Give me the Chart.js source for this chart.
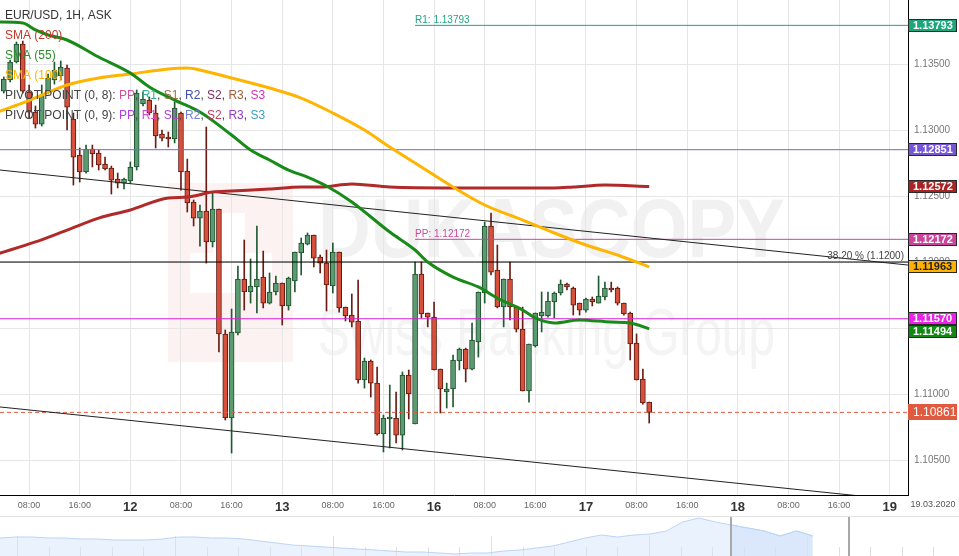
<!DOCTYPE html>
<html>
<head>
<meta charset="utf-8">
<title>EUR/USD 1H</title>
<script src="https://cdn.jsdelivr.net/npm/chart.js@4.4.1/dist/chart.umd.min.js"></script>
<style>
  html, body { margin: 0; padding: 0; background: #fff; }
  #wrap { position: relative; width: 959px; height: 556px; overflow: hidden; background: #fff; }
  #main { position: absolute; left: 0; top: 0; }
  #nav { position: absolute; left: 0; top: 515px; }
</style>
</head>
<body>
<div id="wrap">
  <canvas id="main" width="959" height="515"></canvas>
  <canvas id="nav" width="959" height="41"></canvas>
</div>
<script>
// EUR/USD, 1H, ASK — hour index counted from 11.03 00:00 (weekend collapsed)
const firstHour = 4;
const opens = [1.13295,1.13379,1.13515,1.13652,1.13288,1.13136,1.13045,1.13288,1.13379,1.13409,1.13470,1.13083,1.12811,1.12682,1.12856,1.12826,1.12742,1.12712,1.12629,1.12598,1.12614,1.12720,1.13197,1.13227,1.13129,1.12970,1.12947,1.12932,1.13129,1.12689,1.12455,1.12333,1.12386,1.12152,1.12402,1.11455,1.10818,1.11462,1.11871,1.11773,1.11811,1.11886,1.11689,1.11773,1.11841,1.11667,1.11856,1.12068,1.12136,1.12205,1.12038,1.11992,1.11818,1.12076,1.11659,1.11598,1.11553,1.11106,1.11250,1.11083,1.10697,1.10811,1.10818,1.10689,1.11144,1.10773,1.11909,1.11614,1.11583,1.11189,1.11015,1.11038,1.11250,1.11341,1.11189,1.11394,1.11765,1.12273,1.11939,1.11659,1.11871,1.11659,1.11492,1.11023,1.11364,1.11591,1.11591,1.11697,1.11765,1.11833,1.11803,1.11689,1.11636,1.11720,1.11689,1.11735,1.11803,1.11803,1.11689,1.11614,1.11386,1.11114,1.10939];
const highs = [1.13402,1.13530,1.13667,1.13674,1.13341,1.13182,1.13341,1.13424,1.13515,1.13523,1.13492,1.13129,1.12864,1.12886,1.12886,1.12848,1.12795,1.12727,1.12674,1.12636,1.12758,1.13303,1.13288,1.13250,1.13189,1.13000,1.12985,1.13212,1.13136,1.12780,1.12470,1.12432,1.13023,1.12530,1.12402,1.11485,1.11644,1.11970,1.12167,1.12023,1.12273,1.12083,1.11917,1.11894,1.11841,1.11886,1.12076,1.12182,1.12220,1.12205,1.12053,1.12091,1.12144,1.12076,1.11659,1.11758,1.11864,1.11273,1.11258,1.11205,1.10841,1.11068,1.11015,1.11167,1.11182,1.12000,1.12000,1.11614,1.11697,1.11189,1.11083,1.11295,1.11348,1.11348,1.11538,1.11773,1.12303,1.12371,1.12129,1.11871,1.12000,1.11659,1.11659,1.11379,1.11614,1.11773,1.11773,1.11773,1.11864,1.11841,1.11811,1.11689,1.11727,1.11735,1.11894,1.11848,1.11848,1.11811,1.11689,1.11621,1.11455,1.11189,1.10939];
const lows = [1.13280,1.13364,1.13508,1.13280,1.13091,1.13015,1.13030,1.13273,1.13348,1.13379,1.13000,1.12583,1.12606,1.12674,1.12720,1.12697,1.12697,1.12515,1.12561,1.12553,1.12598,1.12697,1.13182,1.13114,1.12864,1.12917,1.12871,1.12902,1.12545,1.12379,1.12273,1.12121,1.11992,1.12114,1.11318,1.10803,1.10553,1.11447,1.11636,1.11689,1.11614,1.11652,1.11682,1.11750,1.11523,1.11636,1.11773,1.11902,1.12129,1.11962,1.11917,1.11629,1.11765,1.11621,1.11553,1.11508,1.11083,1.11045,1.10977,1.10689,1.10561,1.10591,1.10629,1.10576,1.10811,1.10773,1.11576,1.11508,1.11182,1.10856,1.10894,1.10902,1.11182,1.11091,1.11182,1.11280,1.11689,1.11902,1.11652,1.11508,1.11561,1.11470,1.11023,1.10939,1.11356,1.11470,1.11583,1.11576,1.11750,1.11788,1.11598,1.11598,1.11621,1.11667,1.11689,1.11712,1.11773,1.11674,1.11598,1.11258,1.11106,1.10924,1.10780];
const closes = [1.13386,1.13515,1.13652,1.13295,1.13136,1.13045,1.13265,1.13394,1.13455,1.13477,1.13174,1.12795,1.12682,1.12856,1.12818,1.12735,1.12705,1.12621,1.12598,1.12629,1.12720,1.13280,1.13235,1.13129,1.12955,1.12939,1.12932,1.13167,1.12682,1.12447,1.12333,1.12386,1.12152,1.12402,1.11455,1.10818,1.11470,1.11871,1.11773,1.11818,1.11871,1.11689,1.11773,1.11841,1.11667,1.11879,1.12076,1.12144,1.12205,1.12030,1.11992,1.11826,1.12076,1.11652,1.11591,1.11545,1.11106,1.11250,1.11083,1.10697,1.10818,1.10826,1.10689,1.11144,1.11000,1.11909,1.11606,1.11583,1.11182,1.11038,1.11038,1.11258,1.11341,1.11189,1.11409,1.11773,1.12273,1.11924,1.11659,1.11871,1.11659,1.11492,1.11023,1.11379,1.11614,1.11621,1.11705,1.11765,1.11833,1.11811,1.11674,1.11636,1.11720,1.11697,1.11742,1.11803,1.11788,1.11689,1.11606,1.11379,1.11106,1.10932,1.10861];

// moving averages, read at sample hours
const sma55Hours = [3,7,9,11,14,19,24,27,31,35,40,43,46,49,52,55,59,65,69,71,75,79,82,86,88,91,95,100,103,106];
const sma55 = [1.13818,1.13811,1.13758,1.13720,1.13682,1.13553,1.13432,1.13326,1.13227,1.13136,1.12962,1.12848,1.12773,1.12697,1.12644,1.12576,1.12455,1.12227,1.12091,1.12000,1.11886,1.11811,1.11727,1.11636,1.11576,1.11538,1.11561,1.11545,1.11538,1.11494];
const sma100Hours = [3,7,10,14,19,24,30,33,35,40,46,51,56,61,65,69,75,80,86,91,96,101,106];
const sma100 = [1.13136,1.13205,1.13265,1.13341,1.13394,1.13424,1.13462,1.13470,1.13455,1.13394,1.13318,1.13242,1.13129,1.13000,1.12871,1.12750,1.12568,1.12432,1.12318,1.12220,1.12129,1.12053,1.11963];
const sma200Hours = [3,9,14,19,24,30,33,37,40,46,51,54,59,65,75,91,94,99,106];
const sma200 = [1.12061,1.12152,1.12242,1.12333,1.12394,1.12485,1.12492,1.12530,1.12538,1.12553,1.12568,1.12568,1.12591,1.12568,1.12561,1.12561,1.12568,1.12583,1.12572];

// levels
const pivotStart = 69;
const r1Level = 1.13793;
const ppLevel = 1.12172;
const piv9R2 = 1.12851;
const piv9R1 = 1.11570;
const fibLevel = 1.1200;
const lastPrice = 1.10861;
const trendUpperHours = [3.4, 146.9];
const trendUpper = [1.12697, 1.11977];
const trendLowerHours = [3.4, 146.9];
const trendLower = [1.10902, 1.10190];

// axes
const dayLabels = ['11', '12', '13', '16', '17', '18', '19'];
const xTicks = [8,16,24,32,40,48,56,64,72,80,88,96,104,112,120,128,136,144];
const yTicks = [1.105, 1.110, 1.115, 1.120, 1.125, 1.130, 1.135];
const xMin = 3.4, xMax = 146.9;
const yMin = 1.10235, yMax = 1.13985;

// navigator (relative level of the long history line)
const navLevels = [18,19,19,18,18,17,17,16,16,16,17,19,19,18,18,17,15,13,11,10,9,8,7,6,5,4,4,3,2,3,3,5,6,8,10,14,18,21,19,21,22,25,34,38,34,31,28,25,20,25,20];
const navSlots = 59;
const navWindow = [45, 52.25];

const FONT = '"Liberation Sans", Arial, sans-serif';
const hoursOf = opens.map((_, k) => firstHour + k);
const isUp = k => closes[k] >= opens[k];

function pts(xs, ys) { return xs.map((v, k) => ({ x: v, y: ys[k] })); }

function hline(value, from, color, width, dash) {
  return {
    type: 'line', data: [{ x: from, y: value }, { x: xMax, y: value }],
    borderColor: color, borderWidth: width, borderDash: dash || [],
    pointRadius: 0, order: 5
  };
}

function smaLine(xs, ys, color, order) {
  return {
    type: 'line', data: pts(xs, ys), borderColor: color, borderWidth: 3,
    pointRadius: 0, cubicInterpolationMode: 'monotone', order: order
  };
}

function drawParts(ctx, x, y, parts) {
  parts.forEach(([t, c]) => {
    ctx.fillStyle = c;
    ctx.fillText(t, x, y);
    x += ctx.measureText(t).width;
  });
}

function fitText(ctx, text, x, base, width, font, color) {
  ctx.font = font;
  const w = ctx.measureText(text).width;
  ctx.save();
  ctx.translate(x, base);
  ctx.scale(width / w, 1);
  ctx.fillStyle = color;
  ctx.fillText(text, 0, 0);
  ctx.restore();
}

// Dukascopy watermark behind the grid
const watermark = {
  id: 'watermark',
  beforeDraw(chart) {
    const ctx = chart.ctx;
    ctx.save();
    ctx.fillStyle = '#fff';
    ctx.fillRect(0, 0, chart.width, chart.height);
    ctx.fillStyle = '#fdf2f2';
    ctx.fillRect(168, 183, 125, 179);
    ctx.fillStyle = '#fff';
    ctx.fillRect(213, 213, 32, 42);
    ctx.fillRect(190, 253, 82, 40);
    fitText(ctx, 'DUKASCOPY', 318, 257, 467, 'bold 84px ' + FONT, '#f1f1f1');
    fitText(ctx, 'Swiss Banking Group', 318, 355, 457, '66px ' + FONT, '#f4f4f4');
    ctx.restore();
  }
};

const pivot8Parts = [['PIVOT POINT (0, 8): ', '#444'], ['PP', '#d0509a'], [', ', '#444'], ['R1', '#2fb08e'], [', ', '#444'], ['S1', '#9a7040'], [', ', '#444'], ['R2', '#4050b0'], [', ', '#444'], ['S2', '#803060'], [', ', '#444'], ['R3', '#9a6040'], [', ', '#444'], ['S3', '#d030c0']];
const pivot9Parts = [['PIVOT POINT (0, 9): ', '#444'], ['PP', '#b040e0'], [', ', '#444'], ['R1', '#e040e0'], [', ', '#444'], ['S1', '#b040d0'], [', ', '#444'], ['R2', '#7080d0'], [', ', '#444'], ['S2', '#c04060'], [', ', '#444'], ['R3', '#9040c0'], [', ', '#444'], ['S3', '#40a0c0']];

const axisBoxes = [
  { v: r1Level, bg: '#1fa57a', fg: '#fff' },
  { v: piv9R2, bg: '#7656d6', fg: '#fff' },
  { v: sma200[sma200.length - 1], bg: '#a82424', fg: '#fff' },
  { v: ppLevel, bg: '#c9449a', fg: '#fff' },
  { v: sma100[sma100.length - 1], bg: '#ffb300', fg: '#222' },
  { v: piv9R1, bg: '#e922e6', fg: '#fff' },
  { v: sma55[sma55.length - 1], bg: '#118a11', fg: '#fff' }
];

const overlay = {
  id: 'overlay',
  afterDraw(chart) {
    const { ctx, chartArea: a, scales: { x, y } } = chart;
    ctx.save();
    ctx.textAlign = 'left';
    ctx.textBaseline = 'alphabetic';

    // indicator legend
    ctx.font = '12px ' + FONT;
    ctx.fillStyle = '#333';
    ctx.fillText('EUR/USD, 1H, ASK', 5, 19);
    ctx.fillStyle = '#c0392b';
    ctx.fillText('SMA (200)', 5, 39);
    ctx.fillStyle = '#2e8b2e';
    ctx.fillText('SMA (55)', 5, 59);
    ctx.fillStyle = '#ffb300';
    ctx.fillText('SMA (100)', 5, 79);
    drawParts(ctx, 5, 99, pivot8Parts);
    drawParts(ctx, 5, 119, pivot9Parts);

    // level captions
    ctx.font = '10px ' + FONT;
    ctx.fillStyle = '#1fa57c';
    ctx.fillText('R1: ' + r1Level.toFixed(5), x.getPixelForValue(pivotStart), y.getPixelForValue(r1Level) - 2);
    ctx.fillStyle = '#c94b9d';
    ctx.fillText('PP: ' + ppLevel.toFixed(5), x.getPixelForValue(pivotStart), y.getPixelForValue(ppLevel) - 2);
    ctx.textAlign = 'right';
    ctx.fillStyle = '#444';
    ctx.fillText('38.20 % (' + fibLevel.toFixed(4) + ')', a.right - 4, y.getPixelForValue(fibLevel) - 3);

    // value boxes on the price axis
    ctx.textAlign = 'left';
    ctx.textBaseline = 'middle';
    const boxes = axisBoxes.map(b => Object.assign({ cy: y.getPixelForValue(b.v) }, b));
    boxes.sort((p, q) => p.cy - q.cy);
    let prevBottom = -Infinity;
    const h = 13;
    boxes.forEach(b => {
      let top = Math.round(b.cy - h / 2);
      if (top < prevBottom) top = prevBottom;
      ctx.fillStyle = b.bg;
      ctx.fillRect(a.right, top, 49, h);
      ctx.strokeStyle = '#2a2a2a';
      ctx.lineWidth = 1;
      ctx.strokeRect(a.right + 0.5, top + 0.5, 48, h - 1);
      ctx.font = 'bold 11px ' + FONT;
      ctx.fillStyle = b.fg;
      ctx.fillText(b.v.toFixed(5), a.right + 5, top + h / 2 + 0.5);
      prevBottom = top + h;
    });

    // last price
    const ly = Math.round(y.getPixelForValue(lastPrice));
    ctx.fillStyle = '#e05a3f';
    ctx.fillRect(a.right, ly - 8, 49, 16);
    ctx.font = '12px ' + FONT;
    ctx.fillStyle = '#fff';
    ctx.fillText(lastPrice.toFixed(5), a.right + 5, ly + 0.5);

    // date caption right of the time axis
    ctx.textAlign = 'center';
    ctx.font = '9px ' + FONT;
    ctx.fillStyle = '#555';
    ctx.fillText('19.03.2020', 933, a.bottom + 10);
    ctx.restore();
  }
};

const mainChart = new Chart(document.getElementById('main'), {
  type: 'bar',
  data: {
    datasets: [
      {
        label: 'wicks', stack: 'candle', grouped: false, order: 10,
        data: hoursOf.map((hr, k) => ({ x: hr, y: [lows[k], highs[k]] })),
        backgroundColor: ctx => isUp(ctx.dataIndex) ? '#1f5a33' : '#6b1d14',
        barThickness: 1, borderWidth: 0
      },
      {
        label: 'bodies', stack: 'candle', grouped: false, order: 9,
        data: hoursOf.map((hr, k) => ({ x: hr, y: [opens[k], closes[k]] })),
        backgroundColor: ctx => isUp(ctx.dataIndex) ? '#5b9b72' : '#d6503c',
        borderColor: ctx => isUp(ctx.dataIndex) ? '#1f4d2c' : '#5c1a12',
        borderWidth: 1, borderSkipped: false, barThickness: 5
      },
      hline(piv9R2, xMin, '#7a66cc', 1),
      hline(piv9R1, xMin, '#d520d5', 1),
      hline(fibLevel, xMin, '#000', 1),
      hline(r1Level, pivotStart, '#1fa57c', 1),
      hline(ppLevel, pivotStart, '#c04a98', 1),
      hline(lastPrice, xMin, '#e05a3f', 1, [4, 3]),
      { type: 'line', data: pts(trendUpperHours, trendUpper), borderColor: '#222', borderWidth: 1, pointRadius: 0, order: 4 },
      { type: 'line', data: pts(trendLowerHours, trendLower), borderColor: '#222', borderWidth: 1, pointRadius: 0, order: 4 },
      smaLine(sma200Hours, sma200, '#b02a2a', 3),
      smaLine(sma100Hours, sma100, '#ffb400', 2),
      smaLine(sma55Hours, sma55, '#178a17', 1)
    ]
  },
  options: {
    responsive: false,
    animation: false,
    devicePixelRatio: 1,
    events: [],
    layout: { padding: 0 },
    plugins: { legend: { display: false }, tooltip: { enabled: false } },
    scales: {
      x: {
        type: 'linear', min: xMin, max: xMax, offset: false,
        grid: { offset: false, color: '#e6e6e6', drawTicks: false },
        border: { display: true, color: '#000', width: 1 },
        afterBuildTicks: s => { s.ticks = xTicks.map(v => ({ value: v })); },
        afterFit: s => { s.height = 20; s.paddingLeft = 0; s.paddingRight = 0; },
        ticks: {
          autoSkip: false, maxRotation: 0, padding: 5,
          callback: v => v % 24 === 0 ? dayLabels[v / 24] : (v % 24 === 8 ? '08:00' : '16:00'),
          color: c => (c.tick && c.tick.value % 24 === 0) ? '#333' : '#666',
          font: c => (c.tick && c.tick.value % 24 === 0)
            ? { family: FONT, size: 13, weight: '600' }
            : { family: FONT, size: 9 }
        }
      },
      y: {
        position: 'right', min: yMin, max: yMax, beginAtZero: false, stacked: false,
        grid: { color: '#e6e6e6', drawTicks: false },
        border: { display: true, color: '#000', width: 1 },
        afterBuildTicks: s => { s.ticks = yTicks.map(v => ({ value: v })); },
        afterFit: s => { s.width = 51; s.paddingTop = 0; s.paddingBottom = 0; },
        ticks: {
          padding: 6, color: '#777', font: { family: FONT, size: 10 },
          callback: v => v.toFixed(5)
        }
      }
    }
  },
  plugins: [watermark, overlay]
});

// navigator strip under the time axis
const navDecor = {
  id: 'navDecor',
  beforeDatasetsDraw(chart) {
    const { ctx } = chart;
    ctx.save();
    ctx.strokeStyle = '#e4e4e4';
    ctx.lineWidth = 1;
    ctx.beginPath();
    ctx.moveTo(0, 1.5);
    ctx.lineTo(chart.width, 1.5);
    ctx.stroke();
    ctx.strokeStyle = '#dedede';
    for (let k = 0; k < 31; k++) {
      const px = Math.round(17 + k * 31.6) + 0.5;
      ctx.beginPath();
      ctx.moveTo(px, k % 5 === 0 ? 21 : 32);
      ctx.lineTo(px, 41);
      ctx.stroke();
    }
    ctx.restore();
  },
  afterDatasetsDraw(chart) {
    const { ctx, scales: { x } } = chart;
    ctx.save();
    ctx.strokeStyle = '#a8a8a8';
    ctx.lineWidth = 2;
    navWindow.forEach(v => {
      const px = Math.round(x.getPixelForValue(v));
      ctx.beginPath();
      ctx.moveTo(px, 2);
      ctx.lineTo(px, 41);
      ctx.stroke();
    });
    ctx.restore();
  }
};

const navPoints = navLevels.map((v, k) => ({ x: k, y: v }));
new Chart(document.getElementById('nav'), {
  type: 'line',
  data: {
    datasets: [
      { data: navPoints, fill: 'start', backgroundColor: 'rgba(214,229,251,0.5)', borderColor: '#bcd4f6', borderWidth: 1, pointRadius: 0 },
      { data: navPoints.filter(p => p.x >= navWindow[0]), fill: 'start', backgroundColor: 'rgba(200,218,248,0.55)', borderColor: '#aecbf3', borderWidth: 1, pointRadius: 0 }
    ]
  },
  options: {
    responsive: false,
    animation: false,
    devicePixelRatio: 1,
    events: [],
    layout: { padding: 0 },
    plugins: { legend: { display: false }, tooltip: { enabled: false } },
    scales: {
      x: { type: 'linear', display: false, min: 0, max: navSlots },
      y: { display: false, min: 0, max: 41 }
    }
  },
  plugins: [navDecor]
});
</script>
</body>
</html>
